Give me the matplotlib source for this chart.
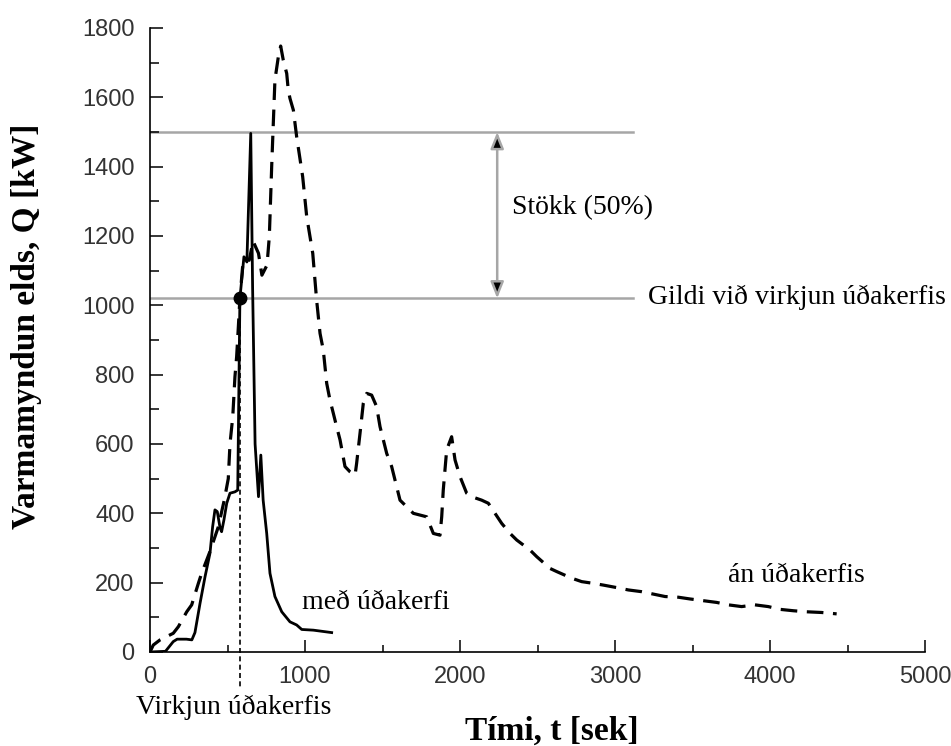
import matplotlib
matplotlib.use('Agg')
import matplotlib.pyplot as plt
from matplotlib.ticker import MultipleLocator

# með úðakerfi (solid)
med_t = [0, 100, 150, 175, 235, 270, 290, 323, 355, 387, 404, 419, 434, 452, 462,
         477, 495, 516, 548, 566, 580, 606, 625, 650, 662, 678, 700, 715, 730, 753,
         774, 806, 850, 903, 946, 979, 1054, 1172]
med_q = [0, 2, 30, 37, 37, 35, 56, 141, 217, 285, 361, 410, 405, 358, 347,
         381, 429, 458, 462, 467, 1020, 1140, 1125, 1496, 1050, 600, 448, 568, 438, 342,
         227, 160, 116, 87, 78, 65, 63, 56]

# án úðakerfis (dashed)
an_t = [0, 21, 65, 150, 183, 237, 269, 312, 333, 387, 440, 480, 505, 516, 534, 548,
        559, 570, 580, 602, 640, 665, 700, 722, 755, 770, 785, 806, 828, 843, 860,
        882, 892, 903, 925, 946, 985, 1011, 1050, 1075, 1097, 1118, 1140, 1161, 1183,
        1204, 1226, 1258, 1290, 1323, 1333, 1355, 1376, 1398, 1430, 1462, 1484, 1527,
        1559, 1613, 1699, 1742, 1785, 1828, 1871, 1882, 1892, 1914, 1946, 1968, 2000,
        2043, 2075, 2140, 2183, 2226, 2269, 2323, 2366, 2452, 2495, 2581, 2624, 2720,
        2785, 2860, 2925, 3032, 3086, 3172, 3226, 3323, 3409, 3484, 3570, 3656, 3731,
        3817, 3903, 3989, 4065, 4151, 4236, 4333, 4430]
an_q = [0, 20, 35, 54, 73, 116, 136, 198, 227, 290, 360, 440, 500, 600, 679, 794,
        852, 938, 1020, 1135, 1130, 1185, 1150, 1087, 1116, 1200, 1400, 1650, 1717, 1748, 1707,
        1669, 1621, 1597, 1563, 1487, 1371, 1256, 1150, 1015, 919, 871, 775, 727, 688,
        650, 612, 535, 520, 510, 544, 631, 717, 746, 741, 708, 650, 573,
        535, 438, 400, 395, 390, 342, 337, 390, 467, 583, 621, 554, 506,
        458, 448, 438, 429, 400, 371, 342, 323, 294, 275, 241, 232, 213,
        203, 198, 193, 184, 179, 174, 169, 160, 158, 153, 148, 143, 136,
        131, 136, 131, 123, 119, 116, 114, 110]

virkjun_t = 580
virkjun_q = 1020
hamark_q = 1500
lina_enda = 3116
orvar_t = 2240

serif = 'Liberation Serif'
sans = 'Liberation Sans'

fig = plt.figure(figsize=(9.51, 7.46), dpi=100)
ax = fig.add_axes([150 / 951, 1 - 652 / 746, 775 / 951, 624 / 746])

grar = '#a6a6a6'
ax.plot([0, lina_enda], [hamark_q, hamark_q], color=grar, lw=1.8, zorder=1)
ax.plot([0, lina_enda], [virkjun_q, virkjun_q], color=grar, lw=1.8, zorder=1)
ax.annotate('', xy=(orvar_t, hamark_q), xytext=(orvar_t, virkjun_q),
            arrowprops=dict(arrowstyle='<|-|>,head_length=0.55,head_width=0.22',
                            fc='black', ec=grar, lw=1.8, mutation_scale=18,
                            shrinkA=0, shrinkB=0))

ax.plot(an_t, an_q, color='black', lw=2.3, linestyle=(0, (5.2, 3)), zorder=3)
ax.plot(med_t, med_q, color='black', lw=2.0, zorder=4)

ax.plot([virkjun_t, virkjun_t], [virkjun_q, -108], color='black', lw=1.2,
        linestyle=(0, (3, 2)), clip_on=False, zorder=2)
ax.plot([virkjun_t], [virkjun_q], 'o', color='black', markersize=9, zorder=5)

ax.set_xlim(0, 5000)
ax.set_ylim(0, 1800)
ax.xaxis.set_major_locator(MultipleLocator(1000))
ax.xaxis.set_minor_locator(MultipleLocator(500))
ax.yaxis.set_major_locator(MultipleLocator(200))
ax.yaxis.set_minor_locator(MultipleLocator(100))
ax.spines['top'].set_visible(False)
ax.spines['right'].set_visible(False)
for s in ['left', 'bottom']:
    ax.spines[s].set_linewidth(1.2)
ax.tick_params(axis='both', which='both', direction='in', width=1.1,
               labelsize=17, labelcolor='#333333')
ax.tick_params(axis='y', which='major', length=9.5, pad=11)
ax.tick_params(axis='y', which='minor', length=6.5)
ax.tick_params(axis='x', which='major', length=8.6, pad=10)
ax.tick_params(axis='x', which='minor', length=5)
for lab in ax.get_xticklabels() + ax.get_yticklabels():
    lab.set_family(sans)

ax.text(2335, 1281, 'Stökk (50%)', family=serif, fontsize=20, va='center')
ax.text(3213, 1022, 'Gildi við virkjun úðakerfis', family=serif, fontsize=20,
        va='center', clip_on=False)
ax.text(980, 144, 'með úðakerfi', family=serif, fontsize=20, va='center')
ax.text(3729, 222, 'án úðakerfis', family=serif, fontsize=20, va='center')

fig.text(234 / 951, 1 - 714 / 746, 'Virkjun úðakerfis', family=serif,
         fontsize=20, ha='center', va='baseline')
fig.text(552 / 951, 1 - 740 / 746, 'Tími, t [sek]', family=serif,
         fontsize=24, fontweight='bold', ha='center', va='baseline')
fig.text(27 / 951, 1 - 326 / 746, 'Varmamyndun elds, Q [kW]', family=serif,
         fontsize=24, fontweight='bold', ha='center', va='center', rotation=90)

fig.savefig('out.png', dpi=100, facecolor='white')
